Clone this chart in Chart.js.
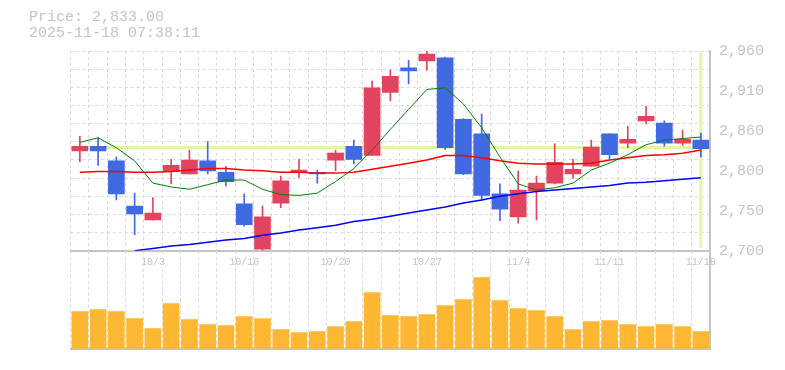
<!DOCTYPE html>
<html>
<head>
<meta charset="utf-8">
<script src="https://cdn.jsdelivr.net/npm/chart.js@4.4.1/dist/chart.umd.min.js"></script>
<style>
  body { margin: 0; background: #fff; }
  #wrap { position: relative; width: 785px; height: 370px; }
  #wrap canvas { position: absolute; left: 0; top: 0; }
</style>
</head>
<body>
<div id="wrap">
  <canvas id="priceChart" width="785" height="370"></canvas>
  <canvas id="volChart" width="785" height="370"></canvas>
</div>
<script>
const dates = ["9/29", "9/30", "10/1", "10/2", "10/3", "10/6", "10/7", "10/8", "10/9", "10/10",
  "10/14", "10/15", "10/16", "10/17", "10/20", "10/21", "10/22", "10/23", "10/24", "10/27",
  "10/28", "10/29", "10/30", "10/31", "11/4", "11/5", "11/6", "11/7", "11/10", "11/11",
  "11/12", "11/13", "11/14", "11/17", "11/18"];
const opens = [2830, 2836, 2817, 2758, 2740, 2803, 2800, 2817, 2802, 2761,
  2702, 2762, 2802, 2802, 2818, 2836, 2824, 2906, 2938, 2947,
  2951, 2871, 2852, 2774, 2744, 2778, 2788, 2800, 2810, 2852,
  2840, 2869, 2866, 2840, 2844];
const closes = [2836, 2830, 2774, 2748, 2749, 2811, 2818, 2804, 2790, 2734,
  2744, 2791, 2805, 2800, 2827, 2819, 2912, 2927, 2934, 2956,
  2834, 2800, 2772, 2754, 2779, 2788, 2815, 2806, 2835, 2825,
  2845, 2875, 2840, 2845, 2833];
const highs = [2849, 2847, 2822, 2775, 2769, 2819, 2831, 2842, 2810, 2774,
  2758, 2797, 2819, 2805, 2831, 2844, 2921, 2935, 2948, 2960,
  2952, 2872, 2878, 2787, 2804, 2797, 2839, 2819, 2844, 2852,
  2862, 2888, 2869, 2857, 2853];
const lows = [2816, 2811, 2766, 2721, 2740, 2787, 2800, 2800, 2784, 2732,
  2700, 2756, 2795, 2788, 2804, 2813, 2824, 2895, 2917, 2935,
  2832, 2799, 2765, 2739, 2736, 2740, 2787, 2794, 2810, 2819,
  2834, 2865, 2836, 2837, 2822];
const ma5 = [2841, 2847, 2834, 2817, 2788, 2783, 2780, 2786, 2792, 2792,
  2780, 2773, 2772, 2775, 2790, 2807, 2831, 2858, 2884, 2910,
  2912, 2891, 2860, 2822, 2787, 2779, 2782, 2788, 2805, 2814,
  2825, 2838, 2844, 2846, 2848];
const ma25 = [2802, 2803, 2803, 2802, 2802, 2803, 2805, 2807, 2807, 2805,
  2804, 2802, 2802, 2801, 2801, 2802, 2806, 2810, 2814, 2818,
  2824, 2824, 2821, 2817, 2814, 2813, 2813, 2813, 2814, 2818,
  2821, 2824, 2825, 2827, 2831];
const ma75 = [null, null, null, 2700, 2703, 2706, 2708, 2711, 2714, 2716,
  2720, 2723, 2727, 2730, 2733, 2738, 2741, 2745, 2749, 2753,
  2757, 2762, 2766, 2771, 2774, 2777, 2779, 2781, 2783, 2785,
  2788, 2789, 2791, 2793, 2795];
const volumes = [370, 390, 370, 300, 200, 450, 290, 240, 230, 320,
  300, 190, 160, 170, 220, 270, 560, 330, 320, 340,
  430, 490, 710, 480, 400, 380, 320, 190, 270, 280,
  240, 220, 240, 220, 170];
const xTickLabels = ["10/3", "10/10", "10/20", "10/27", "11/4", "11/11", "11/18"];
const yTickLabels = ["2,700", "2,750", "2,800", "2,860", "2,910", "2,960"];
const titleLines = ["Price: 2,833.00", "2025-11-18 07:38:11"];
const lastPrice = 2833;

const UP = "#e2445f";
const DOWN = "#4169e1";
const GRID = "#d9d9d9";
const AXIS = "#c4c4c4";
const TEXT = "#c4c4c4";
const MARK = "#e2f5ac";
const MONO = "'Liberation Mono', 'DejaVu Sans Mono', monospace";

const candleColors = opens.map((o, i) => closes[i] >= o ? UP : DOWN);

// current price line + last day marker, drawn under the candles
const priceMarker = {
  id: "priceMarker",
  beforeDatasetsDraw(chart) {
    const { ctx, chartArea, scales } = chart;
    const y = scales.y.getPixelForValue(lastPrice) - 1;
    const x = scales.x.getPixelForValue(dates.length - 1);
    ctx.save();
    ctx.strokeStyle = MARK;
    ctx.lineWidth = 3;
    ctx.beginPath();
    ctx.moveTo(chartArea.left, y);
    ctx.lineTo(chartArea.right - 2, y);
    ctx.moveTo(x, chartArea.top + 1);
    ctx.lineTo(x, chartArea.bottom - 3);
    ctx.stroke();
    ctx.restore();
  }
};

new Chart(document.getElementById("priceChart"), {
  type: "bar",
  data: {
    labels: dates,
    datasets: [
      { type: "line", label: "MA5", data: ma5, yAxisID: "y", borderColor: "#008000", borderWidth: 1, pointRadius: 0, order: 0 },
      { type: "line", label: "MA25", data: ma25, yAxisID: "y", borderColor: "#ff0000", borderWidth: 1.5, pointRadius: 0, order: 0 },
      { type: "line", label: "MA75", data: ma75, yAxisID: "y", borderColor: "#0000ff", borderWidth: 1.5, pointRadius: 0, order: 0 },
      { label: "body", data: opens.map((o, i) => [o, closes[i]]), yAxisID: "y", backgroundColor: candleColors,
        barThickness: 16, grouped: false, order: 1 },
      { label: "wick", data: lows.map((l, i) => [l, highs[i]]), yAxisID: "y", backgroundColor: candleColors,
        barThickness: 1, grouped: false, order: 2 }
    ]
  },
  options: {
    responsive: false,
    animation: false,
    layout: { padding: { left: 29, right: 0, top: 0, bottom: 98.3 } },
    plugins: {
      legend: { display: false },
      tooltip: { enabled: false },
      title: {
        display: true,
        text: titleLines,
        align: "start",
        color: TEXT,
        font: { family: MONO, size: 15, weight: "normal", lineHeight: 1.0667 },
        padding: { top: 9, bottom: 10 }
      }
    },
    scales: {
      x: {
        offset: true,
        grid: { color: GRID, offset: true, drawTicks: false },
        border: { color: AXIS, width: 2, dash: [3, 3] },
        ticks: {
          autoSkip: false, maxRotation: 0, padding: 6, color: TEXT,
          font: { family: MONO, size: 10 },
          callback: (v, i) => xTickLabels.includes(dates[i]) ? dates[i] : ""
        },
        afterFit: s => { s.height = 21; }
      },
      yl: {
        position: "left",
        grid: { display: false },
        border: { display: false },
        ticks: { display: false },
        afterFit: s => { s.width = 41.7; }
      },
      yg: {
        position: "right",
        min: 2700, max: 2960,
        grid: { color: GRID, drawTicks: false },
        border: { display: false, dash: [3, 3] },
        ticks: { display: false },
        afterBuildTicks: s => {
          const t = [];
          for (let i = 0; i <= 11; i++) t.push({ value: 2700 + i * 260 / 11 });
          s.ticks = t;
        },
        afterFit: s => { s.width = 0; }
      },
      y: {
        position: "right",
        min: 2700, max: 2960,
        grid: { display: false, drawTicks: false },
        border: { color: AXIS, width: 2 },
        ticks: {
          padding: 9, color: TEXT,
          font: { family: MONO, size: 15 },
          callback: (v, i) => yTickLabels[i]
        },
        afterBuildTicks: s => {
          s.ticks = yTickLabels.map((_, i) => ({ value: 2700 + i * 52 }));
        },
        afterFit: s => { s.width = 75; }
      }
    }
  },
  plugins: [priceMarker]
});

new Chart(document.getElementById("volChart"), {
  type: "bar",
  data: {
    labels: dates,
    datasets: [
      { label: "Volume", data: volumes, backgroundColor: "#fdb733", barThickness: 16 }
    ]
  },
  options: {
    responsive: false,
    animation: false,
    layout: { padding: { left: 70.7, right: 0, top: 250.7, bottom: 0 } },
    plugins: { legend: { display: false }, tooltip: { enabled: false } },
    scales: {
      x: {
        offset: true,
        grid: { color: GRID, offset: true, drawTicks: false },
        border: { color: AXIS, width: 2, dash: [3, 3] },
        ticks: { display: false },
        afterFit: s => { s.height = 21.3; }
      },
      y: {
        position: "right",
        min: 0, max: 980,
        grid: { display: false, drawTicks: false },
        border: { color: AXIS, width: 2 },
        ticks: { display: false },
        afterFit: s => { s.width = 75; }
      }
    }
  }
});
</script>
</body>
</html>
